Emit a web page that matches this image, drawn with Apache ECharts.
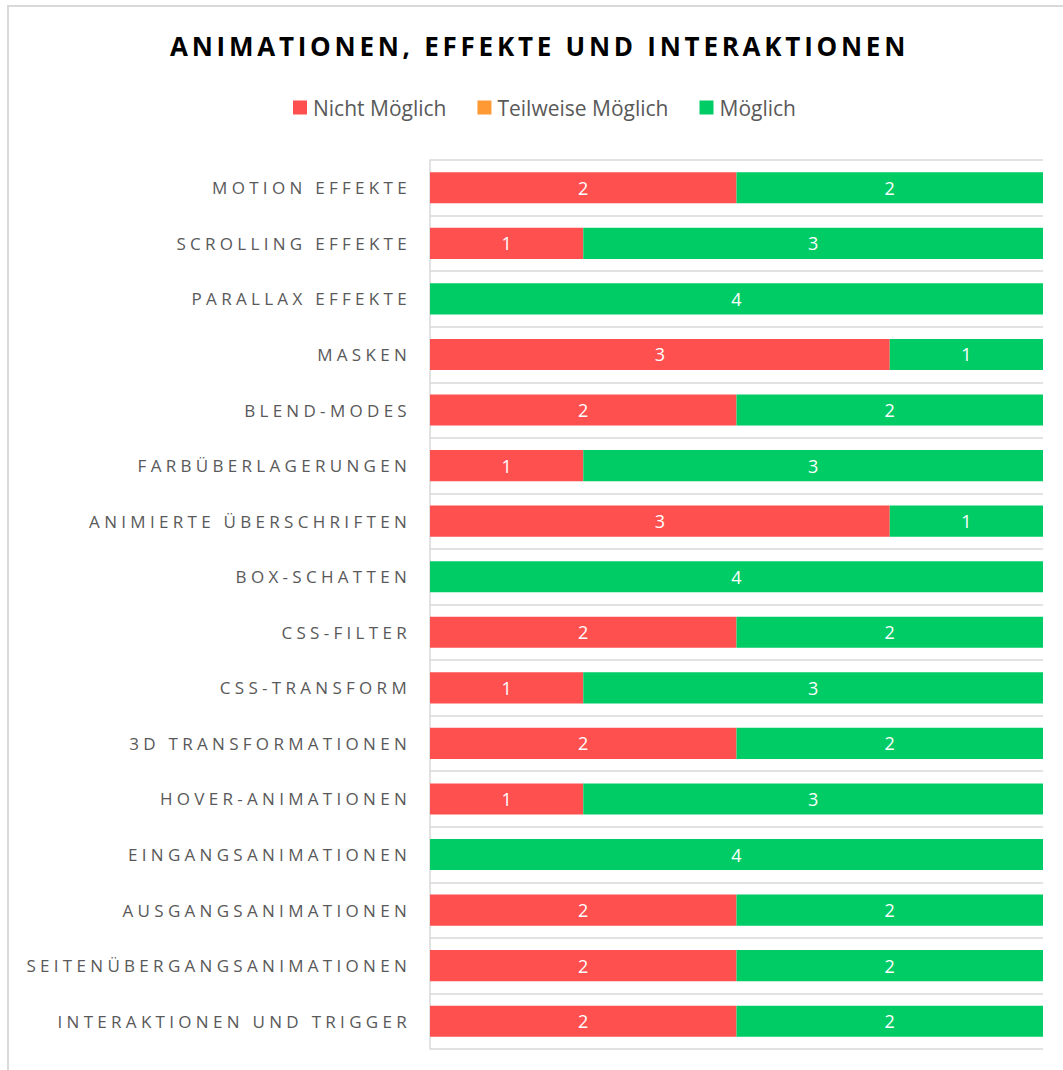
<!DOCTYPE html>
<html>
<head>
<meta charset="utf-8">
<script src="https://cdn.jsdelivr.net/npm/echarts@6/dist/echarts.min.js"></script>
<style>
  html, body { margin: 0; padding: 0; background: #fff; overflow: hidden; }
  #main { width: 1063px; height: 1070px; }
  /* gesperrte Schrift wie im Original (Achsenbeschriftung + Titel) */
  #main svg text[text-anchor="end"] { letter-spacing: 4.3px; }
  #main svg text[style*="bold"] { letter-spacing: 3.75px; }
</style>
</head>
<body>
<div id="main"></div>
<script>
  const categories = [
    'MOTION EFFEKTE',
    'SCROLLING EFFEKTE',
    'PARALLAX EFFEKTE',
    'MASKEN',
    'BLEND-MODES',
    'FARBÜBERLAGERUNGEN',
    'ANIMIERTE ÜBERSCHRIFTEN',
    'BOX-SCHATTEN',
    'CSS-FILTER',
    'CSS-TRANSFORM',
    '3D TRANSFORMATIONEN',
    'HOVER-ANIMATIONEN',
    'EINGANGSANIMATIONEN',
    'AUSGANGSANIMATIONEN',
    'SEITENÜBERGANGSANIMATIONEN',
    'INTERAKTIONEN UND TRIGGER'
  ]
  const nichtMoeglich    = [2, 1, 0, 3, 2, 1, 3, 0, 2, 1, 2, 1, 0, 2, 2, 2]
  const teilweiseMoeglich = [0, 0, 0, 0, 0, 0, 0, 0, 0, 0, 0, 0, 0, 0, 0, 0]
  const moeglich         = [2, 3, 4, 1, 2, 3, 1, 4, 2, 3, 2, 3, 4, 2, 2, 2]

  const fontName = 'Open Sans'
  const chart = echarts.init(document.getElementById('main'), null, { renderer: 'svg' })

  // Label nur wenn Wert > 0
  const barLabel = {
    show: true,
    position: 'inside',
    color: '#fff',
    fontFamily: fontName,
    fontSize: 18,
    formatter: p => (p.value > 0 ? p.value : '')
  }

  const option = {
    animation: false,
    backgroundColor: '#fff',
    color: ['#FF5050', '#FF9933', '#00CC66'],
    title: {
      text: 'ANIMATIONEN, EFFEKTE UND INTERAKTIONEN',
      left: 165,
      top: 28,
      textAlign: 'left',
      textStyle: {
        fontFamily: fontName,
        fontWeight: 'bold',
        fontSize: 26,
        color: '#000'
      }
    },
    legend: {
      top: 92,
      left: 288,
      itemWidth: 14,
      itemHeight: 14,
      itemGap: 31,
      icon: 'rect',
      textStyle: { fontFamily: fontName, fontSize: 21, color: '#595959', padding: [0, 0, 0, 1] },
      data: ['Nicht Möglich', 'Teilweise Möglich', 'Möglich']
    },
    graphic: [{
      type: 'rect',
      silent: true,
      shape: { x: 8, y: 6, width: 1200, height: 1200 },
      style: { fill: 'none', stroke: '#d9d9d9', lineWidth: 2 }
    }],
    grid: {
      left: 430,
      right: 20,
      top: 160,
      bottom: 21,
      containLabel: false
    },
    xAxis: {
      type: 'value',
      min: 0,
      max: 4,
      interval: 1,
      axisLabel: { show: false },
      axisLine: { show: false },
      axisTick: { show: false },
      splitLine: { show: false }
    },
    yAxis: {
      type: 'category',
      inverse: true,
      data: categories,
      axisLine: { show: true, lineStyle: { color: '#d9d9d9', width: 1.5 } },
      axisTick: { show: false },
      splitLine: { show: true, lineStyle: { color: '#d9d9d9', width: 1.5 } },
      axisLabel: {
        margin: 19,
        fontFamily: fontName,
        fontSize: 17,
        color: '#595959'
      }
    },
    series: [
      {
        name: 'Nicht Möglich',
        type: 'bar',
        stack: 'gesamt',
        barCategoryGap: '44%',
        label: barLabel,
        data: nichtMoeglich
      },
      {
        name: 'Teilweise Möglich',
        type: 'bar',
        stack: 'gesamt',
        label: barLabel,
        data: teilweiseMoeglich
      },
      {
        name: 'Möglich',
        type: 'bar',
        stack: 'gesamt',
        label: barLabel,
        data: moeglich
      }
    ]
  }
  chart.setOption(option)
</script>
</body>
</html>
